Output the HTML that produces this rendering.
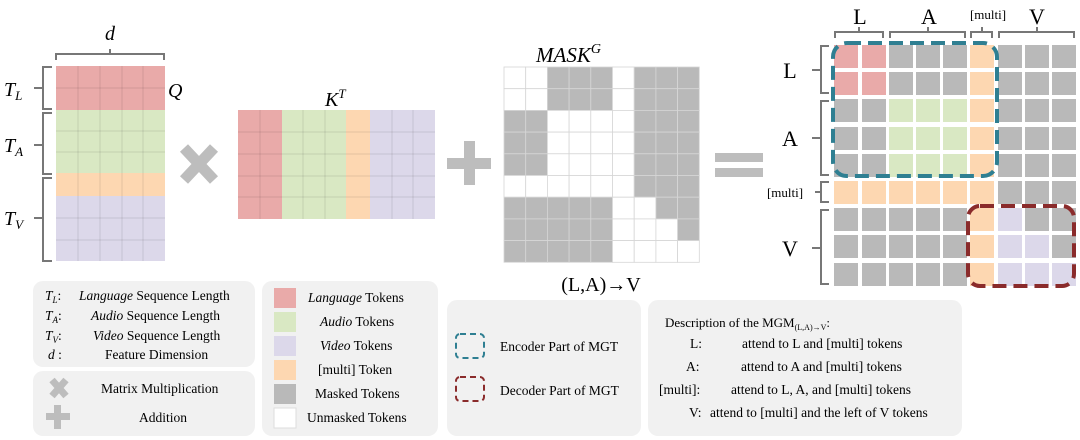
<!DOCTYPE html>
<html><head><meta charset="utf-8"><style>
html,body{margin:0;padding:0;background:#fff;}
svg{display:block;font-family:"Liberation Serif",serif;}
</style></head><body>
<svg width="1080" height="440" viewBox="0 0 1080 440" xmlns="http://www.w3.org/2000/svg">
<rect x="56" y="66" width="109" height="44" fill="#e9aaa9"/>
<rect x="56" y="110" width="109" height="63" fill="#d9e8c3"/>
<rect x="56" y="173" width="109" height="23" fill="#fdd7b1"/>
<rect x="56" y="196" width="109" height="65" fill="#dcd8ea"/>
<g stroke="#000" stroke-opacity="0.1" stroke-width="1">
<line x1="78" y1="66" x2="78" y2="261"/><line x1="100" y1="66" x2="100" y2="261"/><line x1="122" y1="66" x2="122" y2="261"/><line x1="143" y1="66" x2="143" y2="261"/>
<line x1="56" y1="88" x2="165" y2="88"/><line x1="56" y1="131" x2="165" y2="131"/><line x1="56" y1="152" x2="165" y2="152"/><line x1="56" y1="218" x2="165" y2="218"/><line x1="56" y1="240" x2="165" y2="240"/>
</g>
<g stroke="#777" stroke-width="2" fill="none">
<path d="M56 60 V54 H164 V60 M110 54 V49"/>
<path d="M52 67 H43 V109 H52 M43 88 H34"/>
<path d="M52 113 H43 V174 H52 M43 145 H34"/>
<path d="M52 178 H43 V261 H52 M43 218 H34"/>
</g>
<text x="110" y="40" font-size="20" font-style="italic" text-anchor="middle">d</text>
<text x="168" y="97" font-size="20" font-style="italic">Q</text>
<text x="4" y="96" font-size="20" font-style="italic">T<tspan font-size="13" dy="4">L</tspan></text>
<text x="4" y="152" font-size="20" font-style="italic">T<tspan font-size="13" dy="4">A</tspan></text>
<text x="4" y="225" font-size="20" font-style="italic">T<tspan font-size="13" dy="4">V</tspan></text>
<g stroke="#bdbdbd" stroke-width="11"><line x1="184" y1="148" x2="214" y2="180"/><line x1="214" y1="148" x2="184" y2="180"/></g>
<rect x="238" y="110" width="44" height="109" fill="#e9aaa9"/>
<rect x="282" y="110" width="64" height="109" fill="#d9e8c3"/>
<rect x="346" y="110" width="24" height="109" fill="#fdd7b1"/>
<rect x="370" y="110" width="65" height="109" fill="#dcd8ea"/>
<g stroke="#000" stroke-opacity="0.1">
<line x1="260" y1="110" x2="260" y2="219"/><line x1="303" y1="110" x2="303" y2="219"/><line x1="325" y1="110" x2="325" y2="219"/><line x1="392" y1="110" x2="392" y2="219"/><line x1="413" y1="110" x2="413" y2="219"/>
<line x1="238" y1="132" x2="435" y2="132"/><line x1="238" y1="154" x2="435" y2="154"/><line x1="238" y1="176" x2="435" y2="176"/><line x1="238" y1="197" x2="435" y2="197"/>
</g>
<text x="325" y="106" font-size="20" font-style="italic">K<tspan font-size="13" dy="-8">T</tspan></text>
<rect x="447" y="158" width="44" height="11" fill="#bdbdbd"/><rect x="464" y="141" width="11" height="44" fill="#bdbdbd"/>
<g id="mask"></g>
<text x="536" y="62" font-size="21" font-style="italic">MASK<tspan font-size="14" dy="-9">G</tspan></text>
<text x="601" y="291" font-size="20" text-anchor="middle">(L,A)→V</text>
<rect x="715" y="153" width="48" height="9" fill="#bdbdbd"/><rect x="715" y="168" width="48" height="9" fill="#bdbdbd"/>
<g id="res"></g>
<g stroke="#777" stroke-width="2" fill="none">
<path d="M835 38 V32 H883 V38 M859 32 V27"/>
<path d="M890 38 V32 H965 V38 M928 32 V27"/>
<path d="M971 38 V32 H992 V38 M982 32 V27"/>
<path d="M999 38 V32 H1074 V38 M1037 32 V27"/>
<path d="M829 46 H821 V93 H829 M821 70 H812"/>
<path d="M829 101 H821 V175 H829 M821 138 H812"/>
<path d="M829 182 H821 V202 H829 M821 192 H815"/>
<path d="M829 210 H821 V284 H829 M821 248 H812"/>
</g>
<text x="860" y="24" font-size="22" text-anchor="middle">L</text>
<text x="929" y="24" font-size="22" text-anchor="middle">A</text>
<text x="988" y="19" font-size="13" text-anchor="middle">[multi]</text>
<text x="1037" y="24" font-size="22" text-anchor="middle">V</text>
<text x="790" y="78" font-size="22" text-anchor="middle">L</text>
<text x="790" y="146" font-size="22" text-anchor="middle">A</text>
<text x="785" y="197" font-size="13" text-anchor="middle">[multi]</text>
<text x="790" y="256" font-size="22" text-anchor="middle">V</text>
<rect x="833" y="43" width="164" height="133" rx="14" fill="none" stroke="#2f7f92" stroke-width="4" stroke-dasharray="14 7"/>
<rect x="968" y="206" width="106" height="80" rx="12" fill="none" stroke="#8a2b2b" stroke-width="4" stroke-dasharray="14 7"/>
<rect x="33" y="281" width="222" height="86" rx="10" fill="#f1f1f1"/>
<rect x="33" y="371" width="222" height="65" rx="10" fill="#f1f1f1"/>
<rect x="262" y="281" width="176" height="155" rx="10" fill="#f1f1f1"/>
<rect x="447" y="300" width="194" height="136" rx="10" fill="#f1f1f1"/>
<rect x="648" y="300" width="314" height="136" rx="10" fill="#f1f1f1"/>
<g font-size="13.5">
<text x="45" y="300"><tspan font-style="italic">T<tspan font-size="9" dy="3">L</tspan></tspan><tspan dy="-3">:</tspan></text>
<text x="79" y="300"><tspan font-style="italic">Language</tspan> Sequence Length</text>
<text x="45" y="320"><tspan font-style="italic">T<tspan font-size="9" dy="3">A</tspan></tspan><tspan dy="-3">:</tspan></text>
<text x="91" y="320"><tspan font-style="italic">Audio</tspan> Sequence Length</text>
<text x="45" y="340"><tspan font-style="italic">T<tspan font-size="9" dy="3">V</tspan></tspan><tspan dy="-3">:</tspan></text>
<text x="93" y="340"><tspan font-style="italic">Video</tspan> Sequence Length</text>
<text x="48" y="359"><tspan font-style="italic">d</tspan> :</text>
<text x="105" y="359">Feature Dimension</text>
<text x="101" y="393">Matrix Multiplication</text>
<text x="139" y="422">Addition</text>
<g stroke="#bdbdbd" stroke-width="7"><line x1="52" y1="380" x2="66" y2="396"/><line x1="66" y1="380" x2="52" y2="396"/></g>
<rect x="46" y="413" width="24" height="7" fill="#bdbdbd"/><rect x="54" y="405" width="7" height="24" fill="#bdbdbd"/>
<rect x="274" y="288" width="22" height="20" fill="#e9aaa9"/>
<rect x="274" y="312" width="22" height="20" fill="#d9e8c3"/>
<rect x="274" y="336" width="22" height="20" fill="#dcd8ea"/>
<rect x="274" y="360" width="22" height="20" fill="#fdd7b1"/>
<rect x="274" y="384" width="22" height="20" fill="#b9b9b9"/>
<rect x="274" y="408" width="22" height="20" fill="#fff" stroke="#ddd"/>
<text x="308" y="302"><tspan font-style="italic">Language</tspan> Tokens</text>
<text x="320" y="326"><tspan font-style="italic">Audio</tspan> Tokens</text>
<text x="320" y="350"><tspan font-style="italic">Video</tspan> Tokens</text>
<text x="318" y="374">[multi] Token</text>
<text x="315" y="398">Masked Tokens</text>
<text x="307" y="422">Unmasked Tokens</text>
<rect x="456" y="334" width="28" height="24" rx="4" fill="none" stroke="#2f7f92" stroke-width="2" stroke-dasharray="6 4"/>
<rect x="456" y="377" width="28" height="24" rx="4" fill="none" stroke="#8a2b2b" stroke-width="2" stroke-dasharray="6 4"/>
<text x="500" y="351">Encoder Part of MGT</text>
<text x="500" y="395">Decoder Part of MGT</text>
<text x="665" y="327" font-size="13">Description of the MGM<tspan font-size="8" dy="3">(L,A)→V</tspan><tspan dy="-3">:</tspan></text>
<text x="690" y="348">L:</text><text x="742" y="348">attend to L and [multi] tokens</text>
<text x="686" y="371">A:</text><text x="741" y="371">attend to A and [multi] tokens</text>
<text x="659" y="394">[multi]:</text><text x="731" y="394">attend to L, A, and [multi] tokens</text>
<text x="689" y="417">V:</text><text x="710" y="417">attend to [multi] and the left of V tokens</text>
</g>
<script>
var ns="http://www.w3.org/2000/svg";
var m=["WWGGGWGGG","WWGGGWGGG","GGWWWWGGG","GGWWWWGGG","GGWWWWGGG","WWWWWWGGG","GGGGGWWGG","GGGGGWWWG","GGGGGWWWW"];
var g=document.getElementById("mask");
var s=21.7;
for(var r=0;r<9;r++)for(var c=0;c<9;c++){var e=document.createElementNS(ns,"rect");e.setAttribute("x",504+c*s);e.setAttribute("y",67+r*s);e.setAttribute("width",s);e.setAttribute("height",s);e.setAttribute("fill",m[r][c]=="G"?"#b9b9b9":"#fff");e.setAttribute("stroke","#d6d6d6");e.setAttribute("stroke-width","0.8");g.appendChild(e);}
var C={R:"#e9aaa9",G:"#d9e8c3",P:"#dcd8ea",O:"#fdd7b1",X:"#b9b9b9"};
var res=["RRXXXOXXX","RRXXXOXXX","XXGGGOXXX","XXGGGOXXX","XXGGGOXXX","OOOOOOXXX","XXXXXOPXX","XXXXXOPPX","XXXXXOPPP"];
var cx=[834,862,889,916,943,970,998,1025,1052],cy=[45,72,99,127,154,181,208,235,263];
var h=document.getElementById("res");
for(var r=0;r<9;r++)for(var c=0;c<9;c++){var e=document.createElementNS(ns,"rect");e.setAttribute("x",cx[c]);e.setAttribute("y",cy[r]);e.setAttribute("width",24);e.setAttribute("height",23);e.setAttribute("fill",C[res[r][c]]);h.appendChild(e);}
</script>
</svg>
</body></html>
